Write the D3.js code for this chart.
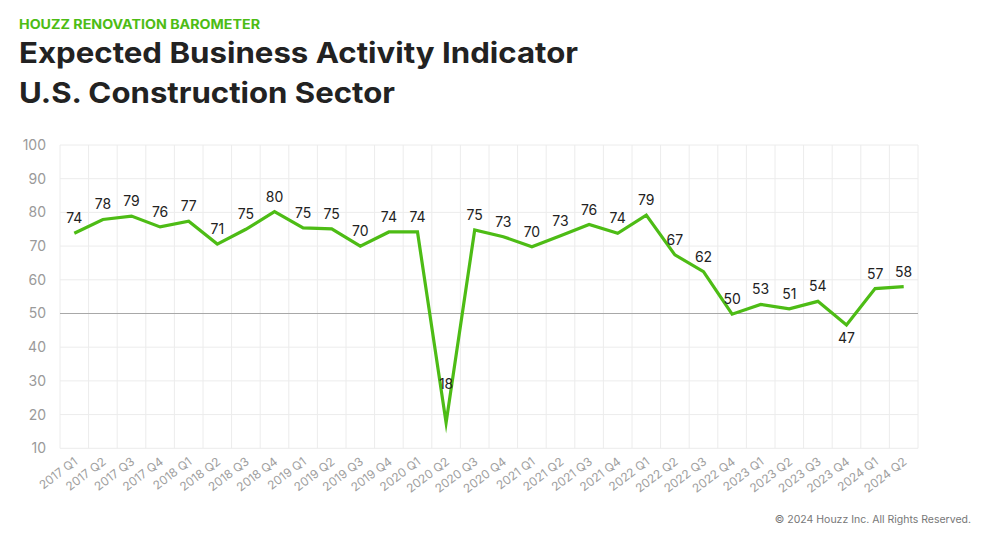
<!DOCTYPE html>
<html>
<head>
<meta charset="utf-8">
<script src="https://cdn.jsdelivr.net/npm/d3@7"></script>
<style>
  body { margin: 0; background: #fff; }
  svg { display: block; }
</style>
</head>
<body>
<div id="chart"></div>
<script>
// quarters on the x axis
var quarters = [
  "2017 Q1", "2017 Q2", "2017 Q3", "2017 Q4",
  "2018 Q1", "2018 Q2", "2018 Q3", "2018 Q4",
  "2019 Q1", "2019 Q2", "2019 Q3", "2019 Q4",
  "2020 Q1", "2020 Q2", "2020 Q3", "2020 Q4",
  "2021 Q1", "2021 Q2", "2021 Q3", "2021 Q4",
  "2022 Q1", "2022 Q2", "2022 Q3", "2022 Q4",
  "2023 Q1", "2023 Q2", "2023 Q3", "2023 Q4",
  "2024 Q1", "2024 Q2"
];
// indicator values (labels are these rounded)
var activity = [
  73.8, 77.9, 78.9, 75.7,
  77.4, 70.6, 75.0, 80.2,
  75.4, 75.1, 70.0, 74.2,
  74.2, 17.6, 74.8, 72.8,
  69.8, 73.1, 76.4, 73.8,
  79.2, 67.4, 62.4, 49.8,
  52.7, 51.4, 53.6, 46.6,
  57.4, 58.0
];
var yTicks = [10, 20, 30, 40, 50, 60, 70, 80, 90, 100];

var width = 990, height = 544;
var green = "#4dbc15";
var font = "Inter, sans-serif";
var svg = d3.select("#chart").append("svg")
  .attr("width", width).attr("height", height);

//header text, stretched to the width of the original (wider) typeface
function heading(txt, yPos, size, color, len) {
  svg.append("text").attr("x", 19).attr("y", yPos)
    .attr("font-family", font).attr("font-weight", 700)
    .attr("font-size", size).attr("fill", color)
    .attr("textLength", len).attr("lengthAdjust", "spacingAndGlyphs")
    .text(txt);
}
heading("HOUZZ RENOVATION BAROMETER", 29, "13px", green, 241);
heading("Expected Business Activity Indicator", 63, "28.5px", "#222", 559);
heading("U.S. Construction Sector", 103, "28.5px", "#222", 376);

//scales
var x = d3.scaleBand().domain(quarters).range([60, 918]).padding(0);
var y = d3.scaleLinear().domain([10, 100]).range([448.3, 145]);
var cx = function(q) { return x(q) + x.bandwidth() / 2; };

//grid
var grid = svg.append("g");
grid.selectAll("line.v")
  .data(quarters.concat(["end"]))
  .enter().append("line")
  .attr("x1", function(d) { return d === "end" ? 918 : x(d); })
  .attr("x2", function(d) { return d === "end" ? 918 : x(d); })
  .attr("y1", y(100)).attr("y2", y(10))
  .attr("stroke", "#ececec").attr("stroke-width", 1);
grid.selectAll("line.h")
  .data(yTicks)
  .enter().append("line")
  .attr("x1", 60).attr("x2", 918)
  .attr("y1", function(d) { return y(d); })
  .attr("y2", function(d) { return y(d); })
  .attr("stroke", function(d) { return d === 50 ? "#a8a8a8" : "#ececec"; })
  .attr("stroke-width", function(d) { return d === 50 ? 1.2 : 1; });

//y axis labels
var yAxis = svg.append("g")
  .attr("transform", "translate(60,0)")
  .call(d3.axisLeft(y).tickValues(yTicks).tickSize(0).tickPadding(14));
yAxis.select(".domain").remove();
yAxis.selectAll("text")
  .attr("font-family", font).attr("font-size", "14px")
  .attr("fill", "#9a9a9a");

//x axis labels, rotated
var xAxis = svg.append("g")
  .attr("transform", "translate(0," + y(10) + ")")
  .call(d3.axisBottom(x).tickSize(0).tickPadding(0));
xAxis.select(".domain").remove();
xAxis.selectAll("text")
  .attr("font-family", font).attr("font-size", "12px")
  .attr("fill", "#a0a0a0")
  .attr("text-anchor", "end")
  .attr("dy", 0)
  .attr("transform", "translate(4,15) rotate(-37)");

//the line itself
var line = d3.line()
  .x(function(d, i) { return cx(quarters[i]); })
  .y(function(d) { return y(d); });
svg.append("path")
  .datum(activity)
  .attr("d", line)
  .attr("fill", "none")
  .attr("stroke", green)
  .attr("stroke-width", 3.2)
  .attr("stroke-linejoin", "miter")
  .attr("stroke-miterlimit", 10);

//value labels, above the point except where they would hit the line
svg.append("g").selectAll("text")
  .data(activity)
  .enter().append("text")
  .attr("x", function(d, i) { return cx(quarters[i]); })
  .attr("y", function(d, i) {
    if (quarters[i] === "2023 Q4") return y(d) + 18;
    if (quarters[i] === "2020 Q2") return y(d) - 34;
    return y(d) - 10;
  })
  .attr("text-anchor", "middle")
  .attr("font-family", font).attr("font-size", "14px")
  .attr("fill", "#222")
  .text(function(d) { return d3.format(".0f")(d); });

//footer
svg.append("text").attr("x", 971).attr("y", 523)
  .attr("text-anchor", "end")
  .attr("font-family", font).attr("font-size", "10.5px")
  .attr("fill", "#777")
  .text("\u00a9 2024 Houzz Inc. All Rights Reserved.");
</script>
</body>
</html>
